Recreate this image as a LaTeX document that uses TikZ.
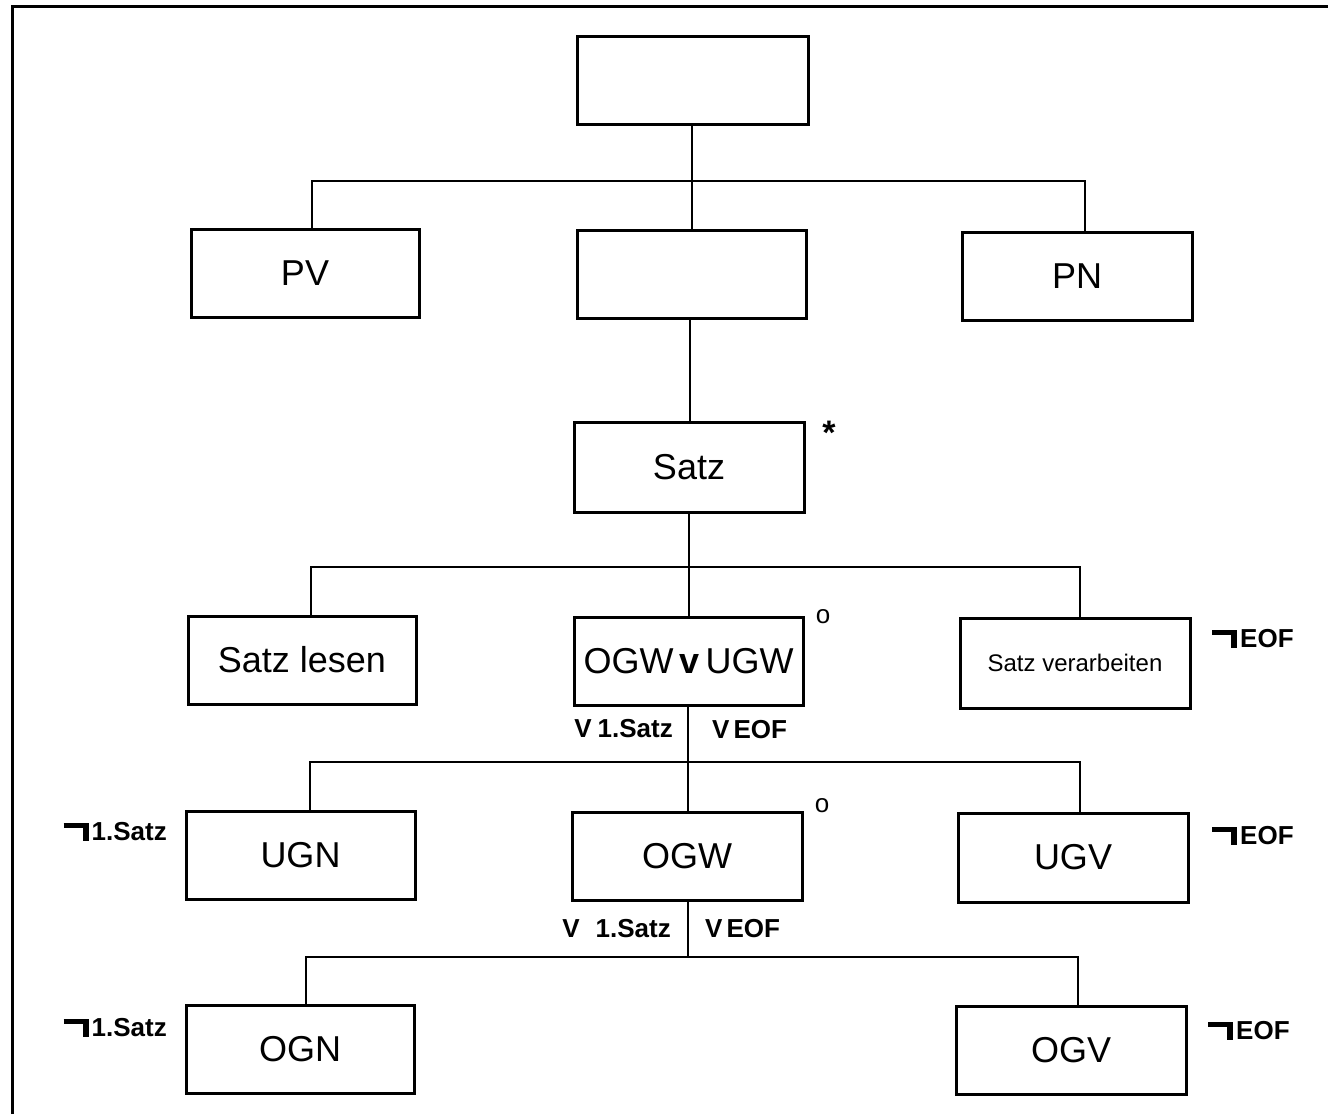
\documentclass[tikz,border=0pt]{standalone}
\usepackage{fontspec}
\setmainfont{Liberation Sans}
% heavy negation hook as printed before the conditions
\newcommand\nothook{\rule[12.5pt]{19pt}{5pt}\rule{6pt}{17.5pt}\hspace{3pt}}
\begin{document}
\begin{tikzpicture}[x=1pt,y=-1pt,
  box/.style={draw, line width=3pt, fill=white, minimum width=229pt, minimum height=88pt,
    inner sep=0pt, font=\fontsize{36}{40}\selectfont},
  conn/.style={line width=2.2pt},
  cond/.style={inner sep=0pt, font=\bfseries\fontsize{26}{28}\selectfont},
  symb/.style={inner sep=0pt, font=\fontsize{26}{28}\selectfont}]
\useasboundingbox (0,0) rectangle (1328,1114);
% outer frame
\draw[line width=3pt] (12,1114) -- (12,6) -- (1328,6);

% junction points of the tree
\coordinate (j1) at (692,181);
\coordinate (j2) at (690,567);
\coordinate (j3) at (688,762);
\coordinate (j4) at (688,957);

% connectors
\draw[conn] (692,80) -- (692,274);
\draw[conn] (312,273) |- (j1) -| (1085,276);
\draw[conn] (690,274) -- (690,467);
\draw[conn] (689,467) -- (689,661);
\draw[conn] (311,660) |- (j2) -| (1080,663);
\draw[conn] (688,661) -- (688,856);
\draw[conn] (310,855) |- (j3) -| (1080,857);
\draw[conn] (688,856) -- (j4);
\draw[conn] (306,1049) |- (j4) -| (1078,1050);

% boxes
\node[box, minimum width=231pt] (top) at (692.5,80) {};
\node[box, minimum width=228pt] (pv) at (305,273) {PV};
\node[box] (mid) at (691.5,274) {};
\node[box, minimum width=230pt] (pn) at (1077,276) {PN};
\node[box, minimum width=230pt, minimum height=90pt] (satz) at (689,467) {Satz};
\node[box, minimum width=228pt] (sl) at (302,660) {Satz lesen};
\node[box] (ou) at (688.5,661) {OGW\,{\bfseries v}\,UGW};
\node[box, minimum width=230pt, minimum height=90pt, font=\fontsize{24}{28}\selectfont] (sv) at (1075,663) {Satz verarbeiten};
\node[box] (ugn) at (300.5,855) {UGN};
\node[box, minimum width=230pt] (ogw) at (687,856) {OGW};
\node[box, minimum width=230pt, minimum height=89pt] (ugv) at (1073,857.5) {UGV};
\node[box, minimum width=228pt] (ogn) at (300,1049) {OGN};
\node[box, minimum width=230pt] (ogv) at (1071,1050) {OGV};

% iteration and selection marks
\node[symb, font=\bfseries\fontsize{34}{36}\selectfont] (star) at (829,433) {*};
\node[symb] (sel1) at (823,617) {o};
\node[symb] (sel2) at (822,806) {o};

% conditions
\node[cond, anchor=east] (c1) at (673,729) {V\hspace{6pt}1.Satz};
\node[cond, anchor=west] (c2) at (712,730) {V\hspace{4pt}EOF};
\node[cond, anchor=east] (c3) at (671,929) {V\hspace{16pt}1.Satz};
\node[cond, anchor=west] (c4) at (705,929) {V\hspace{4pt}EOF};
\node[cond, anchor=west] (c5) at (1212,639) {\nothook EOF};
\node[cond, anchor=west] (c6) at (1212,836) {\nothook EOF};
\node[cond, anchor=west] (c7) at (1208,1031) {\nothook EOF};
\node[cond, anchor=east] (c8) at (167,832) {\nothook 1.Satz};
\node[cond, anchor=east] (c9) at (167,1028) {\nothook 1.Satz};
\end{tikzpicture}
\end{document}
